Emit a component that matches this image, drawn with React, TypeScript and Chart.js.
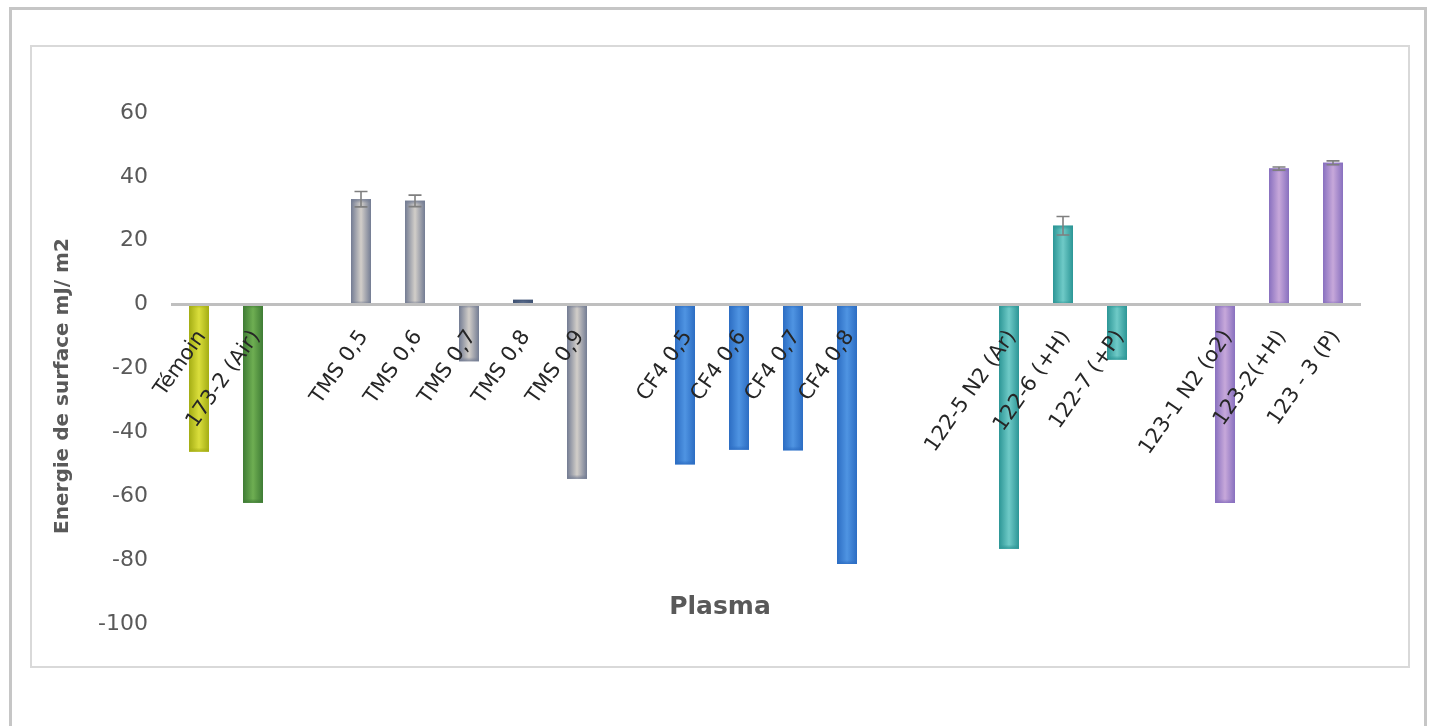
import React, { useEffect, useRef } from "react";
import { Chart, registerables } from "chart.js";

Chart.register(...registerables);

const categories = [
  "Témoin", "173-2 (Air)", "",
  "TMS 0,5", "TMS 0,6", "TMS 0,7", "TMS 0,8", "TMS 0,9", "",
  "CF4 0,5", "CF4 0,6", "CF4 0,7", "CF4 0,8", "", "",
  "122-5 N2 (Ar)", "122-6 (+H)", "122-7 (+P)", "",
  "123-1 N2 (o2)", "123-2(+H)", "123 - 3 (P)",
];
const values: (number | null)[] = [
  -46, -62, null,
  33, 32.5, -17.7, 1.5, -54.5, null,
  -50, -45.4, -45.6, -81.2, null, null,
  -76.4, 24.7, -17.2, null,
  -62.1, 42.6, 44.4,
];
const errors = [
  0, 0, 0,
  2.4, 1.8, 0, 0, 0, 0,
  0, 0, 0, 0, 0, 0,
  0, 2.9, 0, 0,
  0, 0.5, 0.6,
];
const yMin = -100;
const yMax = 60;
const yStep = 20;
const yTitle = "Energie de surface mJ/ m2";
const xTitle = "Plasma";

// styles (edge, center) per category
const PAL = {
  tem: ["#a4ad14", "#dade3c"],
  air: ["#3f7c35", "#6eae52"],
  tms: ["#737c93", "#d2cec9"],
  tmsDark: ["#3f5273", "#5a6d8c"],
  cf4: ["#2c6dc3", "#4f94e2"],
  n122: ["#2c9696", "#6fcac7"],
  n123: ["#8870bf", "#c7a8da"],
  none: ["#ffffff", "#ffffff"],
};
const barPalette = [
  PAL.tem, PAL.air, PAL.none,
  PAL.tms, PAL.tms, PAL.tms, PAL.tmsDark, PAL.tms, PAL.none,
  PAL.cf4, PAL.cf4, PAL.cf4, PAL.cf4, PAL.none, PAL.none,
  PAL.n122, PAL.n122, PAL.n122, PAL.none,
  PAL.n123, PAL.n123, PAL.n123,
];

const FONT = "'DejaVu Sans', sans-serif";

function rgba(hex: string, a: number) {
  const n = parseInt(hex.slice(1), 16);
  return `rgba(${(n >> 16) & 255},${(n >> 8) & 255},${n & 255},${a})`;
}

const decor = {
  id: "decor",
  beforeDraw(chart: any) {
    const ctx = chart.ctx;
    ctx.save();
    ctx.fillStyle = "#ffffff";
    ctx.fillRect(0, 0, chart.width, chart.height);
    ctx.strokeStyle = "#c6c6c6";
    ctx.lineWidth = 3;
    ctx.strokeRect(10.5, 8.5, 1415, 800);
    ctx.strokeStyle = "#d9d9d9";
    ctx.lineWidth = 2;
    ctx.strokeRect(31, 46, 1378, 621);
    ctx.restore();
  },
  afterDatasetsDraw(chart: any) {
    const ctx = chart.ctx;
    const meta = chart.getDatasetMeta(0);
    const yScale = chart.scales.y;
    ctx.save();
    meta.data.forEach((el: any, i: number) => {
      const v = values[i];
      if (v === null || v === undefined) return;
      const { x, y, base, width } = el.getProps(["x", "y", "base", "width"], true);
      const [edge, center] = barPalette[i];
      const left = x - width / 2;
      const top = Math.min(y, base);
      const h = Math.abs(base - y);
      const g = ctx.createLinearGradient(left, 0, left + width, 0);
      g.addColorStop(0, edge);
      g.addColorStop(0.5, center);
      g.addColorStop(1, edge);
      ctx.fillStyle = g;
      ctx.fillRect(left, top, width, h);
      const f = Math.min(0.5, 4 / Math.max(h, 1));
      const gv = ctx.createLinearGradient(0, top, 0, top + h);
      gv.addColorStop(0, rgba(edge, 0.85));
      gv.addColorStop(f, rgba(edge, 0));
      gv.addColorStop(1 - f, rgba(edge, 0));
      gv.addColorStop(1, rgba(edge, 0.85));
      ctx.fillStyle = gv;
      ctx.fillRect(left, top, width, h);
      const e = errors[i];
      if (e > 0) {
        const yHi = yScale.getPixelForValue(v + e);
        const yLo = yScale.getPixelForValue(v - e);
        ctx.strokeStyle = "#7f7f7f";
        ctx.lineWidth = 1.6;
        ctx.beginPath();
        ctx.moveTo(x, yHi);
        ctx.lineTo(x, yLo);
        ctx.moveTo(x - 6.5, yHi);
        ctx.lineTo(x + 6.5, yHi);
        ctx.moveTo(x - 6.5, yLo);
        ctx.lineTo(x + 6.5, yLo);
        ctx.stroke();
      }
    });
    ctx.restore();
  },
  afterDraw(chart: any) {
    const ctx = chart.ctx;
    ctx.save();
    ctx.fillStyle = "#595959";
    ctx.textAlign = "center";
    ctx.textBaseline = "middle";
    ctx.font = `bold 20px ${FONT}`;
    ctx.translate(63, 386);
    ctx.rotate(-Math.PI / 2);
    ctx.fillText(yTitle, 0, 0);
    ctx.restore();
    ctx.save();
    ctx.fillStyle = "#595959";
    ctx.textAlign = "center";
    ctx.textBaseline = "middle";
    ctx.font = `bold 25px ${FONT}`;
    const ca = chart.chartArea;
    ctx.fillText(xTitle, (ca.left + ca.right) / 2 - 46, ca.bottom - 17);
    ctx.restore();
  },
};

export default function App() {
  const ref = useRef<HTMLCanvasElement | null>(null);
  useEffect(() => {
    if (!ref.current) return;
    const chart = new Chart(ref.current, {
      type: "bar",
      data: {
        labels: categories,
        datasets: [
          {
            data: values as any,
            backgroundColor: barPalette.map((p) => p[0]),
            borderWidth: 0,
            barPercentage: 0.37,
            categoryPercentage: 1,
          },
        ],
      },
      options: {
        animation: false,
        responsive: false,
        devicePixelRatio: 1,
        layout: { padding: { left: 0, top: 113, right: 72, bottom: 102 } },
        plugins: { legend: { display: false }, tooltip: { enabled: false } },
        scales: {
          x: {
            position: { y: 0 } as any,
            offset: true,
            grid: { display: false },
            border: { display: true, color: "#bfbfbf", width: 3, z: 1 },
            ticks: {
              autoSkip: false,
              maxRotation: 55,
              minRotation: 55,
              padding: 13,
              labelOffset: 3,
              z: 2,
              color: "#262626",
              font: { family: FONT, size: 21 },
            },
          },
          y: {
            min: yMin,
            max: yMax,
            grid: { display: false },
            border: { display: false },
            afterFit: (s: any) => {
              s.width = 172;
            },
            ticks: {
              stepSize: yStep,
              padding: 16,
              color: "#595959",
              font: { family: FONT, size: 22 },
            },
          },
        },
      },
      plugins: [decor],
    });
    return () => chart.destroy();
  }, []);
  return (
    <div style={{ position: "absolute", left: 0, top: 0, width: 1432, height: 726, background: "#fff" }}>
      <canvas ref={ref} width={1432} height={726} style={{ display: "block", width: 1432, height: 726 }} />
    </div>
  );
}
